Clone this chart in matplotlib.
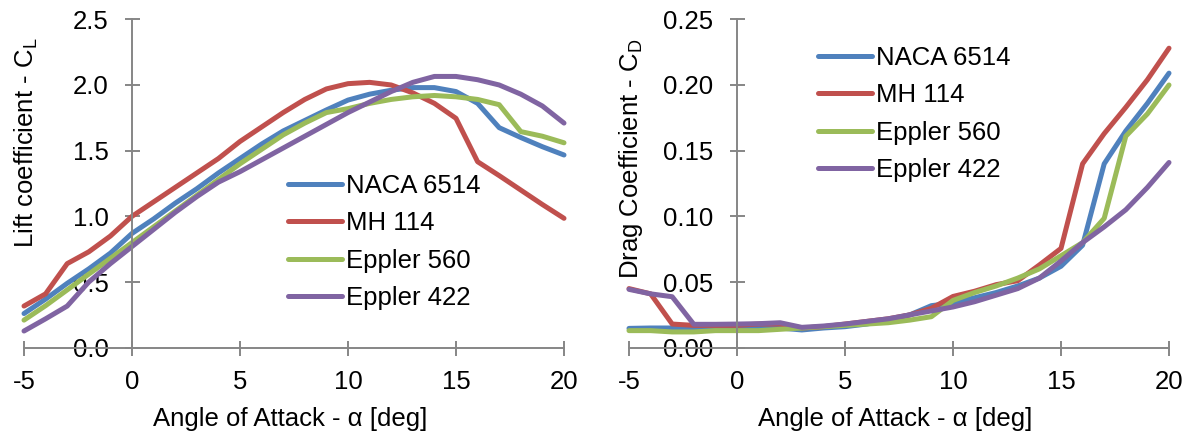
import matplotlib
matplotlib.use("Agg")
import matplotlib.pyplot as plt

# Angle of attack (deg)
alpha = list(range(-5, 21))

# Lift coefficient C_L
cl_naca6514 = [0.26, 0.37, 0.49, 0.60, 0.72, 0.87, 0.98, 1.10, 1.21, 1.33, 1.44, 1.55, 1.65, 1.73, 1.81,
               1.885, 1.93, 1.96, 1.98, 1.98, 1.95, 1.86, 1.675, 1.60, 1.53, 1.467]
cl_mh114 = [0.317, 0.41, 0.64, 0.73, 0.85, 1.00, 1.11, 1.22, 1.33, 1.44, 1.57, 1.68, 1.79, 1.89, 1.97,
            2.01, 2.02, 2.00, 1.94, 1.86, 1.746, 1.416, 1.31, 1.20, 1.09, 0.985]
cl_e560 = [0.21, 0.32, 0.44, 0.56, 0.68, 0.80, 0.92, 1.04, 1.16, 1.28, 1.40, 1.51, 1.62, 1.71, 1.79,
           1.82, 1.86, 1.89, 1.91, 1.92, 1.91, 1.89, 1.85, 1.645, 1.61, 1.56]
cl_e422 = [0.127, 0.22, 0.317, 0.50, 0.64, 0.77, 0.90, 1.03, 1.15, 1.26, 1.34, 1.43, 1.52, 1.61, 1.70,
           1.79, 1.87, 1.95, 2.02, 2.065, 2.065, 2.04, 2.00, 1.93, 1.84, 1.71]

# Drag coefficient C_D
cd_naca6514 = [0.0147, 0.015, 0.015, 0.015, 0.015, 0.015, 0.015, 0.015, 0.0135, 0.015, 0.016, 0.018, 0.021,
               0.025, 0.032, 0.034, 0.038, 0.042, 0.047, 0.053, 0.062, 0.078, 0.140, 0.165, 0.186, 0.209]
cd_mh114 = [0.045, 0.041, 0.018, 0.017, 0.017, 0.017, 0.018, 0.018, 0.015, 0.016, 0.018, 0.020, 0.022,
            0.025, 0.030, 0.039, 0.043, 0.048, 0.051, 0.063, 0.0756, 0.140, 0.163, 0.183, 0.204, 0.228]
cd_e560 = [0.013, 0.013, 0.012, 0.012, 0.013, 0.013, 0.013, 0.014, 0.015, 0.016, 0.017, 0.018, 0.019,
           0.021, 0.0236, 0.036, 0.042, 0.047, 0.053, 0.060, 0.070, 0.080, 0.0985, 0.161, 0.178, 0.200]
cd_e422 = [0.0444, 0.041, 0.0388, 0.0178, 0.0178, 0.018, 0.0183, 0.019, 0.0155, 0.0165, 0.018, 0.020, 0.022,
           0.025, 0.028, 0.031, 0.035, 0.040, 0.045, 0.053, 0.066, 0.080, 0.092, 0.105, 0.122, 0.141]

names = ["NACA 6514", "MH 114", "Eppler 560", "Eppler 422"]
colors = ["#4F81BD", "#C0504D", "#9BBB59", "#8064A2"]

plt.rcParams["font.family"] = ["Liberation Sans", "DejaVu Sans"]
plt.rcParams["mathtext.fontset"] = "custom"
plt.rcParams["mathtext.rm"] = "Liberation Sans"
plt.rcParams["axes.unicode_minus"] = False

FS = 18.5
GRAY = "#868686"

fig = plt.figure(figsize=(11.91, 4.38), dpi=100)
ax1 = fig.add_axes([24 / 1191, 90.3 / 438, 540 / 1191, 328.4 / 438])
ax2 = fig.add_axes([629 / 1191, 90.3 / 438, 540 / 1191, 328.4 / 438])


def style_axes(ax, ylim, yticks, yfmt):
    ax.set_xlim(-5, 20)
    ax.set_ylim(*ylim)
    ax.set_xticks([-5, 0, 5, 10, 15, 20])
    ax.set_yticks(yticks)
    ax.set_yticklabels([yfmt.format(v) for v in yticks])
    for s in ["top", "right"]:
        ax.spines[s].set_visible(False)
    ax.spines["left"].set_position(("data", 0))
    for s in ["left", "bottom"]:
        ax.spines[s].set_color(GRAY)
        ax.spines[s].set_linewidth(1.4)
    ax.tick_params(axis="both", direction="inout", length=10.8, width=1.4, color=GRAY,
                   labelsize=FS)
    ax.tick_params(axis="y", pad=11.5)
    ax.tick_params(axis="x", pad=11)
    ax.set_xlabel("Angle of Attack - \u03b1 [deg]", fontsize=FS)
    ax.xaxis.label.set_va("center")
    ax.xaxis.set_label_coords(0.4926, -0.217)


def add_legend(ax, anchor):
    ax.legend(loc="upper left", bbox_to_anchor=anchor, bbox_transform=ax.transAxes,
              frameon=False, fontsize=FS, borderpad=0, borderaxespad=0, handlelength=2.1,
              handletextpad=0.16, labelspacing=0.52)


# Lift
lift = [cl_naca6514, cl_mh114, cl_e560, cl_e422]
for vals, name, c in zip(lift, names, colors):
    ax1.plot(alpha, vals, color=c, lw=3.6, label=name, solid_capstyle="round",
             solid_joinstyle="round", clip_on=False)
style_axes(ax1, (0, 2.5), [0.0, 0.5, 1.0, 1.5, 2.0, 2.5], "{:.1f}")
ax1.set_ylabel("Lift coefficient - C$_\\mathregular{L}$", fontsize=FS)
ax1.yaxis.label.set_va("center")
ax1.yaxis.set_label_coords(0.004, 0.623)
add_legend(ax1, (0.489, 0.529))

# Drag
drag = [cd_naca6514, cd_mh114, cd_e560, cd_e422]
for vals, name, c in zip(drag, names, colors):
    ax2.plot(alpha, vals, color=c, lw=3.6, label=name, solid_capstyle="round",
             solid_joinstyle="round", clip_on=False)
style_axes(ax2, (0, 0.25), [0.0, 0.05, 0.10, 0.15, 0.20, 0.25], "{:.2f}")
ax2.set_ylabel("Drag Coefficient - C$_\\mathregular{D}$", fontsize=FS)
ax2.yaxis.label.set_va("center")
ax2.yaxis.set_label_coords(0.004, 0.576)
add_legend(ax2, (0.35, 0.919))

fig.savefig("out.png", dpi=100)
